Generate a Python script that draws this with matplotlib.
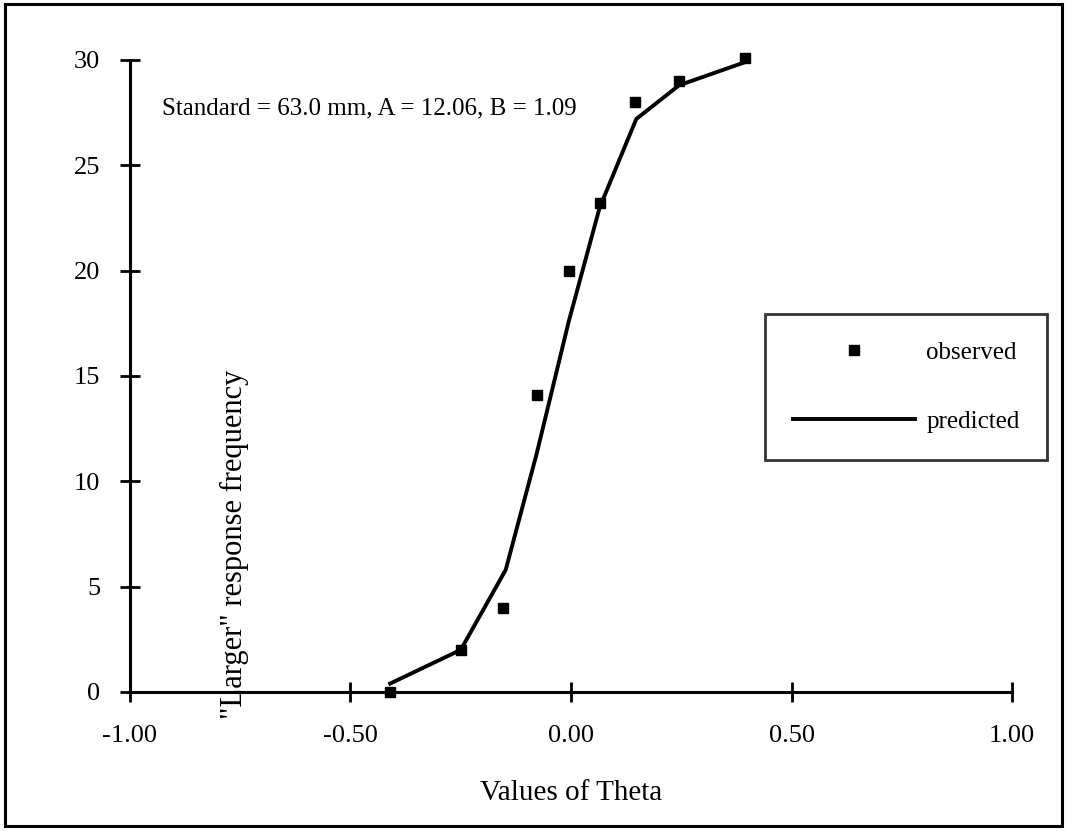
import matplotlib
matplotlib.use("Agg")
import matplotlib.pyplot as plt
from matplotlib.lines import Line2D
from matplotlib.patches import Rectangle

plt.rcParams['font.family'] = ['Liberation Serif', 'DejaVu Serif']

# observed points
theta_obs = [-0.41, -0.25, -0.155, -0.077, -0.005, 0.065, 0.145, 0.245, 0.395]
freq_obs = [0, 2, 4, 14.1, 20, 23.2, 28, 29, 30.1]
# predicted curve
theta_pred = [-0.41, -0.25, -0.148, -0.078, -0.005, 0.065, 0.148, 0.245, 0.395]
freq_pred = [0.4, 2.0, 5.8, 11.3, 17.6, 23.0, 27.2, 28.8, 29.9]

xticks = [-1.0, -0.5, 0.0, 0.5, 1.0]
xtick_labels = ['-1.00', '-0.50', '0.00', '0.50', '1.00']
yticks = [0, 5, 10, 15, 20, 25, 30]

fig = plt.figure(figsize=(10.67, 8.31), dpi=100)
ax = fig.add_axes([0.1218, 0.1673, 0.8267, 0.7605])

ax.plot(theta_pred, freq_pred, color='black', lw=2.8, clip_on=False)
ax.plot(theta_obs, freq_obs, 's', color='black', ms=6.5, clip_on=False)

ax.set_xlim(-1, 1)
ax.set_ylim(0, 30)
ax.spines['top'].set_visible(False)
ax.spines['right'].set_visible(False)
ax.spines['left'].set_linewidth(2.2)
ax.spines['bottom'].set_linewidth(2.2)
ax.set_xticks(xticks)
ax.set_xticklabels(xtick_labels)
ax.set_yticks(yticks)
ax.tick_params(direction='inout', length=15, width=2, labelsize=19)
ax.tick_params(axis='x', pad=16)
ax.tick_params(axis='y', pad=14)

ax.set_xlabel('Values of Theta', fontsize=21, labelpad=24)
ax.text(-0.762, 7.0, '"Larger" response frequency', rotation=90, fontsize=22,
        ha='center', va='center')
ax.text(-0.927, 27.7, 'Standard = 63.0 mm, A = 12.06, B = 1.09', fontsize=18,
        ha='left', va='center')

handles = [Line2D([], [], marker='s', ls='none', color='black', ms=6.5),
           Line2D([], [], color='black', lw=2.8)]
leg = ax.legend(handles, ['observed', 'predicted'], loc='upper left',
                bbox_to_anchor=(0.717, 0.622), bbox_transform=fig.transFigure,
                borderaxespad=0, fontsize=18, handlelength=4.9,
                labelspacing=1.85, handletextpad=0.45,
                frameon=True, fancybox=False, borderpad=1.1)
leg.get_frame().set_edgecolor('black')
leg.get_frame().set_linewidth(2)

fig.patches.append(Rectangle((0.005, 0.006), 0.99, 0.989, transform=fig.transFigure,
                             fill=False, edgecolor='black', lw=2.2))

fig.savefig('out.png', dpi=100)
